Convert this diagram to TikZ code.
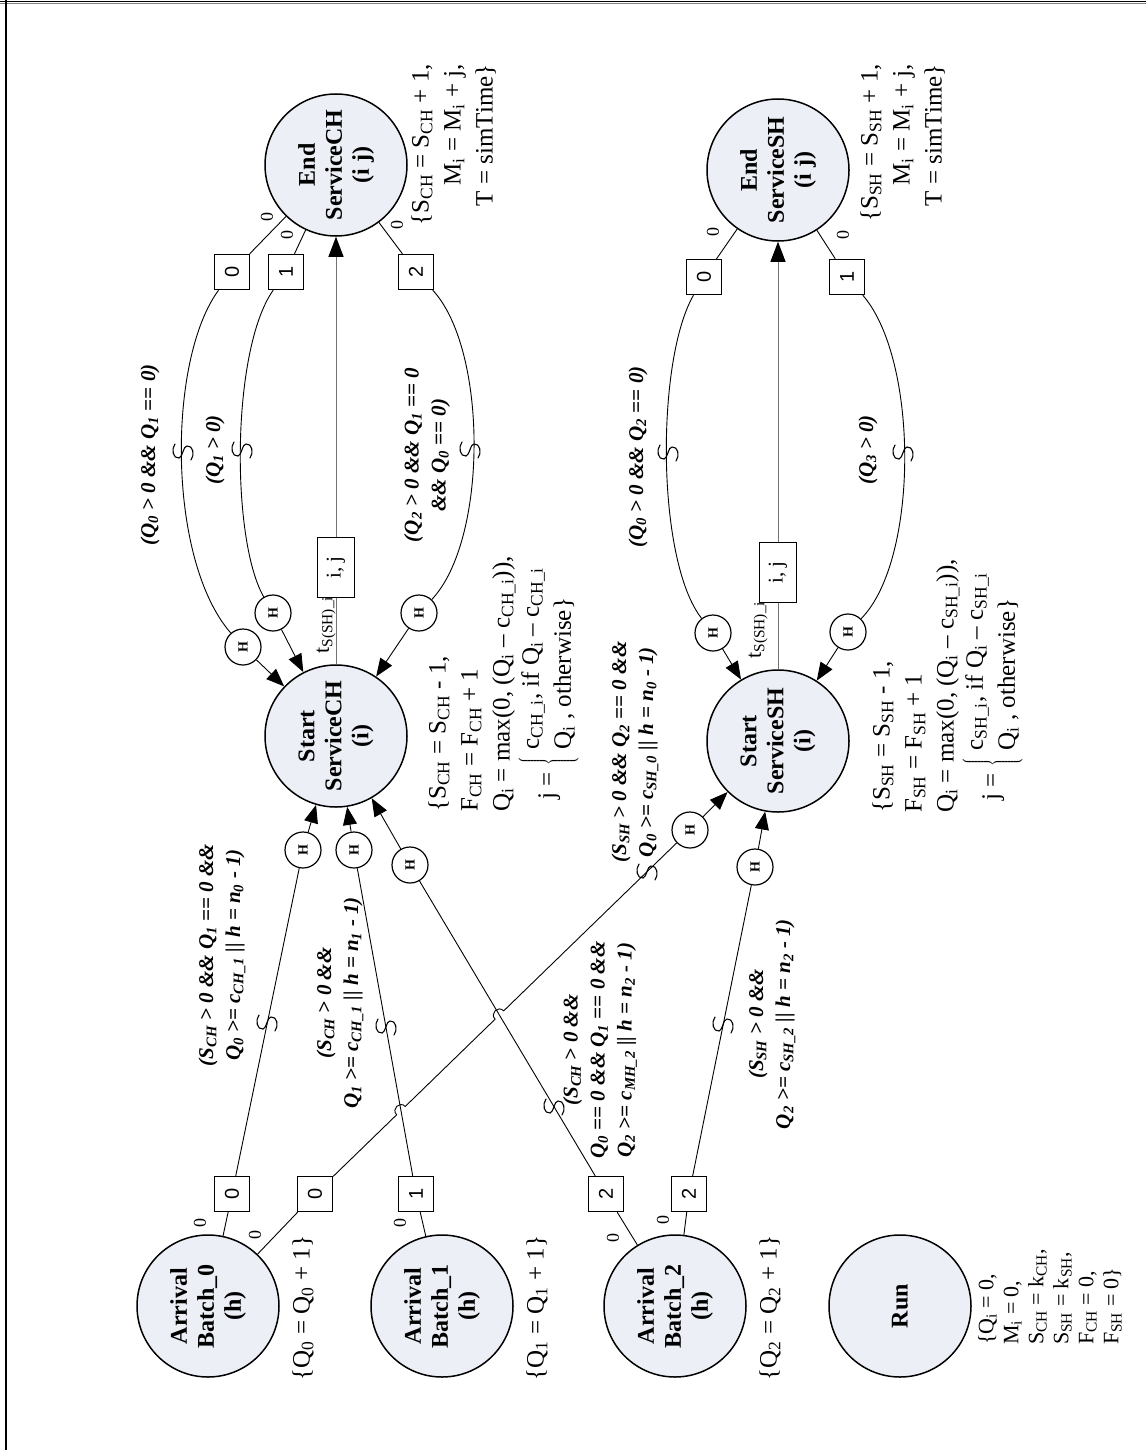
\documentclass[tikz,border=0pt]{standalone}
\usepackage{fontspec}
\setmainfont{Liberation Serif}
\newfontfamily\numfont{Liberation Sans}
\usetikzlibrary{arrows.meta}
\definecolor{evfill}{RGB}{236,239,245}
\definecolor{linkgray}{RGB}{115,115,115}
\newcommand{\lo}[1]{\textsubscript{#1}}

\begin{document}
\begin{tikzpicture}[x=1pt,y=-1pt,
  evt/.style={circle, draw, line width=1.5pt, fill=evfill, minimum size=142pt, inner sep=0pt,
    font=\fontsize{24}{27}\selectfont\bfseries, align=center, rotate=90},
  hnode/.style={circle, draw, line width=1.2pt, fill=white, minimum size=36pt, inner sep=0pt,
    font=\fontsize{14}{14}\selectfont\bfseries, rotate=90},
  numbox/.style={draw, line width=1.3pt, fill=white, minimum size=35pt, inner sep=0pt,
    font=\numfont\fontsize{20}{20}\selectfont, rotate=90},
  ijbox/.style={draw=black, line width=1pt, fill=white, minimum width=60pt, minimum height=37pt,
    inner sep=0pt, font=\fontsize{21}{21}\selectfont, rotate=90},
  cond/.style={font=\fontsize{21}{27}\selectfont\bfseries\itshape, rotate=90, align=center, inner sep=0pt},
  note/.style={font=\fontsize{25}{32}\selectfont, rotate=90, inner sep=0pt},
  runnote/.style={font=\fontsize{22}{25}\selectfont, rotate=90, inner sep=0pt, align=left},
  zero/.style={font=\fontsize{18}{18}\selectfont, rotate=90, inner sep=0pt},
  tlabel/.style={font=\fontsize{22}{22}\selectfont, rotate=90, inner sep=0pt},
  edge/.style={line width=0.9pt},
  arr/.style={-{Triangle[length=18pt,width=14pt]}},
  link/.style={draw=linkgray, line width=1pt, -{Triangle[length=20pt,width=15pt,color=black]}},
  squiggle/.pic={\draw[line width=1.1pt, line cap=round]
      (-8,-8) .. controls (-12,-3) and (-10,7) .. (-4,6)
      .. controls (0,5) and (0,-6) .. (4,-6)
      .. controls (10,-7) and (12,3) .. (8,8);}
]
\useasboundingbox (0,0) rectangle (1146,1450);

% frame
\draw[line width=1.8pt] (0,1.6) -- (1146,1.6);
\draw[gray, line width=1.2pt] (0,3.4) -- (1146,3.4);
\draw[line width=2.2pt] (6.2,0) -- (6.2,1450);

% event vertices
\node[evt] (eCH) at (336,165) {End\\ServiceCH\\(i j)};
\node[evt] (eSH) at (778,170) {End\\ServiceSH\\(i j)};
\node[evt] (sCH) at (336,736) {Start\\ServiceCH\\(i)};
\node[evt] (sSH) at (778,741) {Start\\ServiceSH\\(i)};
\node[evt] (a0) at (208,1306) {Arrival\\Batch\_0\\(h)};
\node[evt] (a1) at (442,1306) {Arrival\\Batch\_1\\(h)};
\node[evt] (a2) at (675,1306) {Arrival\\Batch\_2\\(h)};
\node[evt] (run) at (900,1306) {Run};

% parameter boxes
\node[numbox] (b00) at (232,1194) {0};
\node[numbox] (b01) at (315,1194) {0};
\node[numbox] (b1)  at (416,1194) {1};
\node[numbox] (b2a) at (606,1194) {2};
\node[numbox] (b2b) at (689,1194) {2};
\node[numbox] (t0) at (232,272) {0};
\node[numbox] (t1) at (286,272) {1};
\node[numbox] (t2) at (416,272) {2};
\node[numbox] (u0) at (704,277) {0};
\node[numbox] (u1) at (847,277) {1};

% H markers
\node[hnode] (h1) at (303,850) {H};
\node[hnode] (h2) at (354,850) {H};
\node[hnode] (h3) at (410,865) {H};
\node[hnode] (h4) at (690,830) {H};
\node[hnode] (h5) at (755,867) {H};
\node[hnode] (hA) at (243,647) {H};
\node[hnode] (hB) at (273,613) {H};
\node[hnode] (hC) at (419,613) {H};
\node[hnode] (hD) at (713,633) {H};
\node[hnode] (hE) at (848,632) {H};

% line-jump points on the Batch_0 -> ServiceSH edge
\coordinate (j1a) at (396.65,1114.78);
\coordinate (j1b) at (405.27,1106.42);
\coordinate (j2a) at (495.09,1019.18);
\coordinate (j2b) at (503.71,1010.82);

% arrivals to start of service
\draw[edge] (a0) -- (b00);
\draw[edge] (b00) -- (h1);
\draw[edge,arr] (h1) -- (sCH);
\draw[edge] (a0) -- (b01);
\draw[edge] (b01) -- (j1a) .. controls (391.08,1109.04) and (399.70,1100.68) .. (j1b)
  -- (j2a) .. controls (489.52,1013.44) and (498.14,1005.08) .. (j2b) -- (h4);
\draw[edge,arr] (h4) -- (sSH);
\draw[edge] (a1) -- (b1);
\draw[edge] (b1) -- (h2);
\draw[edge,arr] (h2) -- (sCH);
\draw[edge] (a2) -- (b2a);
\draw[edge] (b2a) -- (h3);
\draw[edge,arr] (h3) -- (sCH);
\draw[edge] (a2) -- (b2b);
\draw[edge] (b2b) -- (h5);
\draw[edge,arr] (h5) -- (sSH);

% end of service back to start of service
\draw[edge] (eCH) -- (t0);
\draw[edge] (t0) .. controls (167,360) and (167,560) .. (hA);
\draw[edge,arr] (hA) -- (sCH);
\draw[edge] (eCH) -- (t1);
\draw[edge] (t1) .. controls (231,350) and (231,540) .. (hB);
\draw[edge,arr] (hB) -- (sCH);
\draw[edge] (eCH) -- (t2);
\draw[edge] (t2) .. controls (488,350) and (488,540) .. (hC);
\draw[edge,arr] (hC) -- (sCH);
\draw[edge] (eSH) -- (u0);
\draw[edge] (u0) .. controls (656,360) and (656,560) .. (hD);
\draw[edge,arr] (hD) -- (sSH);
\draw[edge] (eSH) -- (u1);
\draw[edge] (u1) .. controls (919,360) and (919,560) .. (hE);
\draw[edge,arr] (hE) -- (sSH);

% scheduled service completions
\draw[link] (sCH) -- node[ijbox, pos=0.226] (ijCH) {i, j} (eCH);
\draw[link] (sSH) -- node[ijbox, pos=0.226] (ijSH) {i, j} (eSH);
\node[tlabel] (tCH) at (326,625) {t\lo{S(SH)\_i}};
\node[tlabel] (tSH) at (758,630) {t\lo{S(SH)\_i}};

% condition marks
\pic at (267,1023) {squiggle};
\pic at (386,1027) {squiggle};
\pic at (554,1107) {squiggle};
\pic at (647,872) {squiggle};
\pic at (723,1025) {squiggle};
\pic at (183,452) {squiggle};
\pic at (242,450) {squiggle};
\pic at (470,450) {squiggle};
\pic at (668,453) {squiggle};
\pic at (903,453) {squiggle};

% edge conditions
\node[cond] (c1) at (222,955) {(S\lo{CH} > 0 \&\& Q\lo{1} == 0 \&\&\\Q\lo{0} >= c\lo{CH\_1} || h = n\lo{0} - 1)};
\node[cond] (c2) at (340,1003) {(S\lo{CH} > 0 \&\&\\Q\lo{1} >= c\lo{CH\_1} || h = n\lo{1} - 1)};
\node[cond] (c3) at (600,1050) {(S\lo{CH} > 0 \&\&\\Q\lo{0} == 0 \&\& Q\lo{1} == 0 \&\&\\Q\lo{2} >= c\lo{MH\_2} || h = n\lo{2} - 1)};
\node[cond] (c4) at (635,752) {(S\lo{SH} > 0 \&\& Q\lo{2} == 0 \&\&\\Q\lo{0} >= c\lo{SH\_0} || h = n\lo{0} - 1)};
\node[cond] (c5) at (772,1024) {(S\lo{SH} > 0 \&\&\\Q\lo{2} >= c\lo{SH\_2} || h = n\lo{2} - 1)};
\node[cond] (c6) at (150,455) {(Q\lo{0} > 0 \&\& Q\lo{1} == 0)};
\node[cond] (c7) at (215,450) {(Q\lo{1} > 0)};
\node[cond] (c8) at (427,455) {(Q\lo{2} > 0 \&\& Q\lo{1} == 0\\\&\& Q\lo{0} == 0)};
\node[cond] (c9) at (638,457) {(Q\lo{0} > 0 \&\& Q\lo{2} == 0)};
\node[cond] (c10) at (868,450) {(Q\lo{3} > 0)};

% edge delays
\node[zero] at (267,217) {0};
\node[zero] at (287,235) {0};
\node[zero] at (397,225) {0};
\node[zero] at (713,232) {0};
\node[zero] at (843,235) {0};
\node[zero] at (200,1223) {0};
\node[zero] at (255,1235) {0};
\node[zero] at (400,1223) {0};
\node[zero] at (613,1238) {0};
\node[zero] at (663,1220) {0};

% state changes
\node[note, align=right, anchor=north east] (nEC) at (411,64)
  {\{S\lo{CH} = S\lo{CH} + 1,\\M\lo{i} = M\lo{i} + j,\\T = simTime\}};
\node[note, align=right, anchor=north east] (nES) at (860,64)
  {\{S\lo{SH} = S\lo{SH} + 1,\\M\lo{i} = M\lo{i} + j,\\T = simTime\}};
\node[note, align=left, anchor=north west] (nSC) at (428,812)
  {\{S\lo{CH} = S\lo{CH} - 1,\\F\lo{CH} = F\lo{CH} + 1\\Q\lo{i} = max(0, (Q\lo{i} – c\lo{CH\_i})),\\
   \ \ j =\(\;\left\{\;\begin{tabular}{@{}l@{}}c\lo{CH\_i}, if Q\lo{i} – c\lo{CH\_i}\\Q\lo{i} , otherwise\}\end{tabular}\right.\)};
\node[note, align=left, anchor=north west] (nSS) at (872,813)
  {\{S\lo{SH} = S\lo{SH} - 1,\\F\lo{SH} = F\lo{SH} + 1\\Q\lo{i} = max(0, (Q\lo{i} – c\lo{SH\_i})),\\
   \ \ j =\(\;\left\{\;\begin{tabular}{@{}l@{}}c\lo{SH\_i}, if Q\lo{i} – c\lo{SH\_i}\\Q\lo{i} , otherwise\}\end{tabular}\right.\)};
\node[note] (nA0) at (303,1308) {\{Q\lo{0} = Q\lo{0} + 1\}};
\node[note] (nA1) at (537,1308) {\{Q\lo{1} = Q\lo{1} + 1\}};
\node[note] (nA2) at (770,1308) {\{Q\lo{2} = Q\lo{2} + 1\}};
\node[runnote, anchor=north west] (nRun) at (978,1345)
  {\{Q\lo{i} = 0,\\M\lo{i} = 0,\\S\lo{CH} = k\lo{CH},\\S\lo{SH} = k\lo{SH},\\F\lo{CH} = 0,\\F\lo{SH} = 0\}};
\end{tikzpicture}
\end{document}
